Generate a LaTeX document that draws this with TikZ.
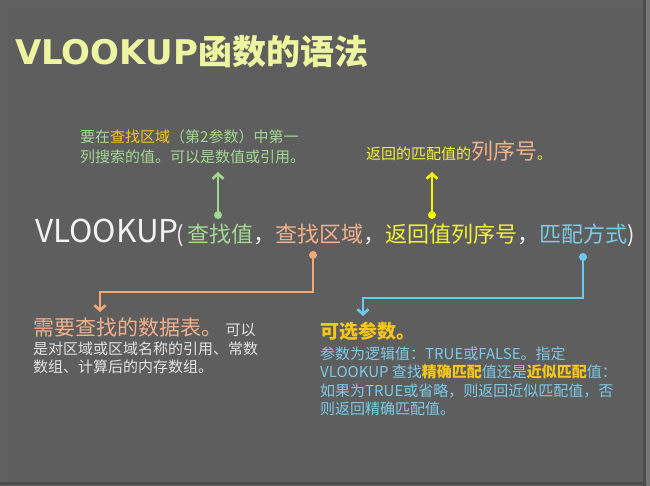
\documentclass[tikz,border=0pt]{standalone}
\usepackage{fontspec}
\setmainfont{Noto Sans CJK SC}
\newfontfamily\titlelatin{DejaVu Sans}
\usetikzlibrary{arrows.meta,patterns}
\definecolor{bg}{HTML}{5E5E5E}
\definecolor{titlecol}{HTML}{EEF5A0}
\definecolor{maincol}{HTML}{F2F2F2}
\definecolor{grn}{HTML}{A3D893}
\definecolor{org}{HTML}{F2B08C}
\definecolor{orgline}{HTML}{F2A878}
\definecolor{ylw}{HTML}{F2F23A}
\definecolor{ylwline}{HTML}{F5F500}
\definecolor{blu}{HTML}{7CCAE8}
\definecolor{bluline}{HTML}{6CCAF0}
\definecolor{hl}{HTML}{F5C71A}
\definecolor{pale}{HTML}{E2E2E2}
\tikzset{
  txt/.style={inner sep=0pt, anchor=base west},
  small/.style={txt, font=\fontsize{15}{18}\selectfont},
  conn/.style={line width=2.6pt, -{Straight Barb[length=5pt,width=11pt,line width=2.6pt]}},
  dot/.style={circle, inner sep=0pt, minimum size=8pt, fill=#1},
}
\begin{document}
\begin{tikzpicture}[x=1pt,y=-1pt]
\useasboundingbox (0,0) rectangle (650,486);
\fill[bg] (0,0) rectangle (650,486);
% frame
\fill[pattern=north east lines, pattern color=black!60] (0,0) rectangle (650,8);
\fill[pattern=north east lines, pattern color=black!60] (0,8) rectangle (8,486);
\fill[black!70] (643,0) rectangle (646,486);
\fill[black!70] (0,482) rectangle (650,485);
\fill[bg!85!white] (646,0) rectangle (650,486);

% title
\node[txt, font=\fontsize{34}{40}\selectfont\bfseries, text=titlecol,
      preaction={}] (title) at (15,65) {{\titlelatin\bfseries VLOOKUP}函数的语法};

% main line
\node[txt, font=\fontsize{31.5}{38}\selectfont, text=maincol] (vl) at (35,243) {VLOOKUP};
\node[txt, font=\fontsize{22}{26}\selectfont, text=maincol] (args) at (176,243)
  {(\,\textcolor{grn}{查找值}，\textcolor{org}{查找区域}，\textcolor{ylw}{返回值列序号}，\textcolor{blu}{匹配方式})};

% green note
\node[small, text=grn] (g1) at (80,143) {要在\textcolor{hl}{查找区域}（第2参数）中第一};
\node[small, text=grn] (g2) at (80,163) {列搜索的值。可以是数值或引用。};

% yellow note
\node[txt, font=\fontsize{15}{18}\selectfont, text=ylw] (y1) at (366,160) {返回的匹配值的\textcolor{org}{\fontsize{22}{26}\selectfont 列序号}。};

% orange note
\node[txt, font=\fontsize{21}{26}\selectfont, text=org] (o1) at (33,335) {需要查找的数据表。\textcolor{pale}{\fontsize{15}{18}\selectfont\ 可以}};
\node[small, text=pale] (o2) at (33,354) {是对区域或区域名称的引用、常数};
\node[small, text=pale] (o3) at (33,372) {数组、计算后的内存数组。};

% blue note
\node[txt, font=\fontsize{19}{22}\selectfont\bfseries, text=hl] (b0) at (320,338) {可选参数。};
\node[small, text=blu] (b1) at (320,359) {参数为逻辑值：TRUE或FALSE。指定};
\node[small, text=blu] (b2) at (320,377) {VLOOKUP 查找\textcolor{hl}{\bfseries 精确匹配}值还是\textcolor{hl}{\bfseries 近似匹配}值：};
\node[small, text=blu] (b3) at (320,396) {如果为TRUE或省略，则返回近似匹配值，否};
\node[small, text=blu] (b4) at (320,414) {则返回精确匹配值。};

% connectors
\node[dot=grn] (gd) at (218,215) {};
\node[dot=ylwline] (yd) at (432,215) {};
\node[dot=orgline] (od) at (313,255) {};
\node[dot=bluline] (bd) at (583,257) {};

\coordinate (gt) at (218,172);
\coordinate (yt) at (432,172);
\coordinate (oc) at (100,292);
\coordinate (ot) at (100,312);
\coordinate (bc) at (363,298);
\coordinate (bt) at (363,316);

\draw[conn, grn] (gd.center) -- (gt);
\draw[conn, ylwline] (yd.center) -- (yt);
\draw[conn, orgline] (od.center) |- (oc) -- (ot);
\draw[conn, bluline] (bd.center) |- (bc) -- (bt);
\end{tikzpicture}
\end{document}
